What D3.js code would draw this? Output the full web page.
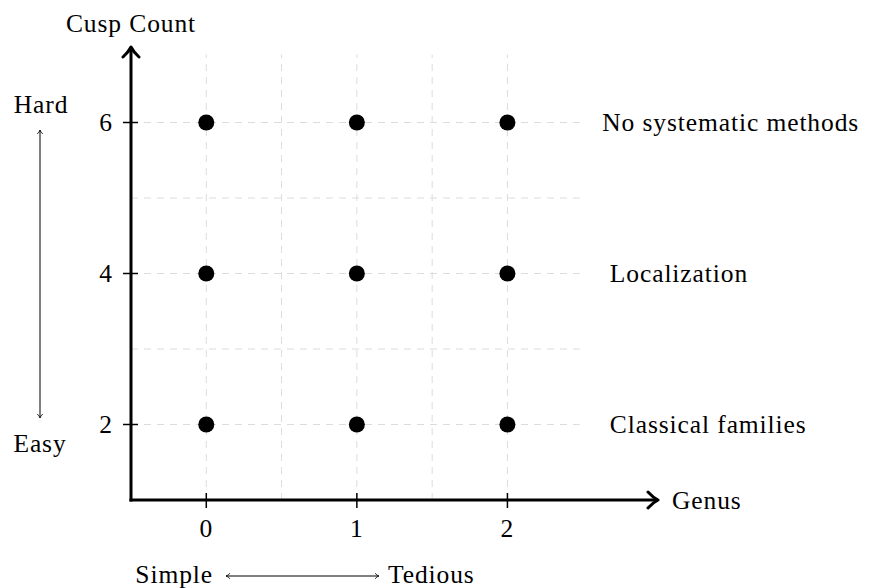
<!DOCTYPE html>
<html>
<head>
<meta charset="utf-8">
<script src="https://cdnjs.cloudflare.com/ajax/libs/d3/7.8.5/d3.min.js"></script>
<style>
  body { margin: 0; background: #fff; }
  text { font-family: "Liberation Serif", "DejaVu Serif", serif; fill: #000; font-size: 25.5px; letter-spacing: 0.9px; }
</style>
</head>
<body>
<svg id="chart" width="875" height="588"></svg>
<script>
// data
const genusValues = [0, 1, 2];
const cuspValues = [2, 4, 6];
const xTicks = [0, 1, 2];
const yTicks = [2, 4, 6];
const rowLabels = ['Classical families', 'Localization', 'No systematic methods'];
const rowLabelX = [2.68, 2.68, 2.63];

const points = [];
cuspValues.forEach(c => genusValues.forEach(g => points.push({ g: g, c: c })));

const svg = d3.select('#chart');

// scales: origin of the axes sits at (-0.5, 1)
const x = d3.scaleLinear().domain([-0.5, 3]).range([131, 658]);
const y = d3.scaleLinear().domain([1, 7]).range([500, 47]);

// arrow markers
const defs = svg.append('defs');
defs.append('marker')
    .attr('id', 'bigArrow')
    .attr('viewBox', '0 0 20 20')
    .attr('refX', 17).attr('refY', 10)
    .attr('markerWidth', 20).attr('markerHeight', 20)
    .attr('markerUnits', 'userSpaceOnUse')
    .attr('orient', 'auto')
  .append('path')
    .attr('d', 'M7,2 Q12,7.5 17,10 Q12,12.5 7,18')
    .attr('fill', 'none')
    .attr('stroke', '#000')
    .attr('stroke-width', 3)
    .attr('stroke-linecap', 'round')
    .attr('stroke-linejoin', 'round');

defs.append('marker')
    .attr('id', 'thinArrow')
    .attr('viewBox', '0 0 10 10')
    .attr('refX', 9).attr('refY', 5)
    .attr('markerWidth', 8).attr('markerHeight', 8)
    .attr('markerUnits', 'userSpaceOnUse')
    .attr('orient', 'auto-start-reverse')
  .append('path')
    .attr('d', 'M4,1.5 Q6.5,4.3 9,5 Q6.5,5.7 4,8.5')
    .attr('fill', 'none')
    .attr('stroke', '#000')
    .attr('stroke-width', 1);

// grid
const gridX = [0, 0.5, 1, 1.5, 2];
const gridY = [2, 3, 4, 5, 6];
svg.append('g').selectAll('line').data(gridX).join('line')
    .attr('x1', d => x(d)).attr('x2', d => x(d))
    .attr('y1', y(1)).attr('y2', y(6.9))
    .attr('stroke', '#dcdcdc').attr('stroke-width', 1)
    .attr('stroke-dasharray', '7,6');
svg.append('g').selectAll('line').data(gridY).join('line')
    .attr('x1', x(-0.5)).attr('x2', x(2.48))
    .attr('y1', d => y(d)).attr('y2', d => y(d))
    .attr('stroke', '#dcdcdc').attr('stroke-width', 1)
    .attr('stroke-dasharray', '7,6');

// axes
svg.append('line')
    .attr('x1', x(-0.5) - 1.5).attr('y1', y(1))
    .attr('x2', x(3)).attr('y2', y(1))
    .attr('stroke', '#000').attr('stroke-width', 3)
    .attr('marker-end', 'url(#bigArrow)');
svg.append('line')
    .attr('x1', x(-0.5)).attr('y1', y(1) + 1.5)
    .attr('x2', x(-0.5)).attr('y2', y(7))
    .attr('stroke', '#000').attr('stroke-width', 3)
    .attr('marker-end', 'url(#bigArrow)');

// ticks
svg.append('g').selectAll('line').data(xTicks).join('line')
    .attr('x1', d => x(d)).attr('x2', d => x(d))
    .attr('y1', y(1) - 7).attr('y2', y(1) + 8)
    .attr('stroke', '#000').attr('stroke-width', 1.5);
svg.append('g').selectAll('text').data(xTicks).join('text')
    .attr('x', d => x(d)).attr('y', y(1) + 37)
    .attr('text-anchor', 'middle')
    .text(d => d);

svg.append('g').selectAll('line').data(yTicks).join('line')
    .attr('x1', x(-0.5) - 8).attr('x2', x(-0.5) + 7)
    .attr('y1', d => y(d)).attr('y2', d => y(d))
    .attr('stroke', '#000').attr('stroke-width', 1.5);
svg.append('g').selectAll('text').data(yTicks).join('text')
    .attr('x', x(-0.5) - 18).attr('y', d => y(d) + 8)
    .attr('text-anchor', 'end')
    .text(d => d);

// points
svg.append('g').selectAll('circle').data(points).join('circle')
    .attr('cx', d => x(d.g)).attr('cy', d => y(d.c))
    .attr('r', 8).attr('fill', '#000');

// axis titles
svg.append('text').attr('x', 131).attr('y', 32)
    .attr('text-anchor', 'middle').text('Cusp Count');
svg.append('text').attr('x', 672).attr('y', y(1) + 9)
    .text('Genus');

// row labels
svg.append('g').selectAll('text').data(cuspValues).join('text')
    .attr('x', (d, i) => x(rowLabelX[i])).attr('y', d => y(d) + 8)
    .text((d, i) => rowLabels[i]);

// difficulty arrows
svg.append('text').attr('x', 41).attr('y', 113)
    .attr('text-anchor', 'middle').text('Hard');
svg.append('text').attr('x', 40).attr('y', 452)
    .attr('text-anchor', 'middle').text('Easy');
svg.append('line')
    .attr('x1', 40).attr('y1', 130).attr('x2', 40).attr('y2', 418)
    .attr('stroke', '#000').attr('stroke-width', 1)
    .attr('marker-start', 'url(#thinArrow)')
    .attr('marker-end', 'url(#thinArrow)');

svg.append('text').attr('x', 213).attr('y', 583)
    .attr('text-anchor', 'end').text('Simple');
svg.append('text').attr('x', 388).attr('y', 583)
    .text('Tedious');
svg.append('line')
    .attr('x1', 226).attr('y1', 576).attr('x2', 379).attr('y2', 576)
    .attr('stroke', '#000').attr('stroke-width', 1)
    .attr('marker-start', 'url(#thinArrow)')
    .attr('marker-end', 'url(#thinArrow)');
</script>
</body>
</html>
